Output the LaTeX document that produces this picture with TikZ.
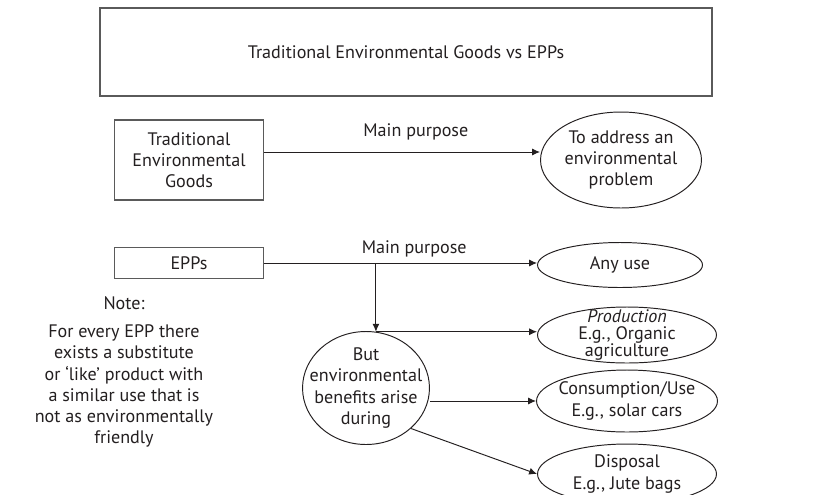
\documentclass[tikz,border=0pt]{standalone}
\usepackage{fontspec}
\setmainfont{PT Sans}
\usetikzlibrary{shapes.geometric,arrows.meta,positioning}
\definecolor{ink}{HTML}{231F20}
\definecolor{rim}{HTML}{5A5A5A}
\tikzset{
  box/.style={draw=rim,line width=0.7pt,align=center,inner sep=2pt},
  oval/.style={ellipse,draw=ink,line width=0.55pt,align=center,inner sep=0pt},
  arr/.style={-{Latex[length=4.5pt,width=4pt]},draw=ink,line width=0.55pt}
}

\begin{document}
\begin{tikzpicture}[x=0.02cm,y=-0.02cm,font=\fontsize{10.3}{12}\selectfont,text=ink]
\useasboundingbox (0,0) rectangle (814,494);
% heading
\node[box,line width=0.9pt,minimum width=12.24cm,minimum height=1.76cm] (title) at (406,52) {Traditional Environmental Goods vs EPPs};
% traditional goods
\node[box,minimum width=2.98cm,minimum height=1.6cm] (trad) at (189,160) {Traditional\\Environmental\\Goods};
\node[oval,minimum width=3.22cm,minimum height=1.92cm] (goal) at (621,160) {To address an\\environmental\\problem};
\draw[arr] ([yshift=0.16cm]trad.east) -- node[above=3pt,pos=0.55] (lab1) {Main purpose} ([yshift=0.16cm]trad.east -| goal.west);
% EPPs
\node[box,minimum width=2.98cm,minimum height=0.62cm] (epps) at (189,263) {EPPs};
\node[oval,minimum width=3.3cm,minimum height=0.9cm] (anyuse) at (620,265) {Any use};
\draw[arr] (epps.east) -- node[above=0pt,pos=0.55] (lab2) {Main purpose} (epps.east -| anyuse.west);
\node[oval,inner xsep=-6.5pt,minimum width=2.24cm,minimum height=2.26cm] (benefit) at (366,388) {But\\environmental\\benefits arise\\during};
\coordinate (split) at (benefit.80 |- epps.east);
\draw[arr] (split) -- (benefit.80);
% life cycle stages
\node[oval,inner ysep=-3.1pt,minimum width=3.58cm,minimum height=1.12cm,font=\fontsize{10.3}{9.6}\selectfont] (prod) at (627,335) {\textit{Production}\\E.g., Organic\\agriculture};
\node[oval,inner xsep=-2.5pt,minimum width=3.58cm,minimum height=1.24cm] (cons) at (627,401) {Consumption/Use\\E.g., solar cars};
\node[oval,minimum width=3.58cm,minimum height=1.2cm] (disp) at (627,474) {Disposal\\E.g., Jute bags};
\draw[arr] (benefit.80) -- (benefit.80 -| prod.west);
\draw[arr] (benefit.east |- cons.west) -- (cons.west);
\draw[arr] (benefit.-42) -- (disp.west);
% note
\node (note) at (124,303) {Note:};
\node[align=center] (notetext) at (124,386) {For every EPP there\\exists a substitute\\or ‘like’ product with\\a similar use that is\\not as environmentally\\friendly};
\end{tikzpicture}
\end{document}
